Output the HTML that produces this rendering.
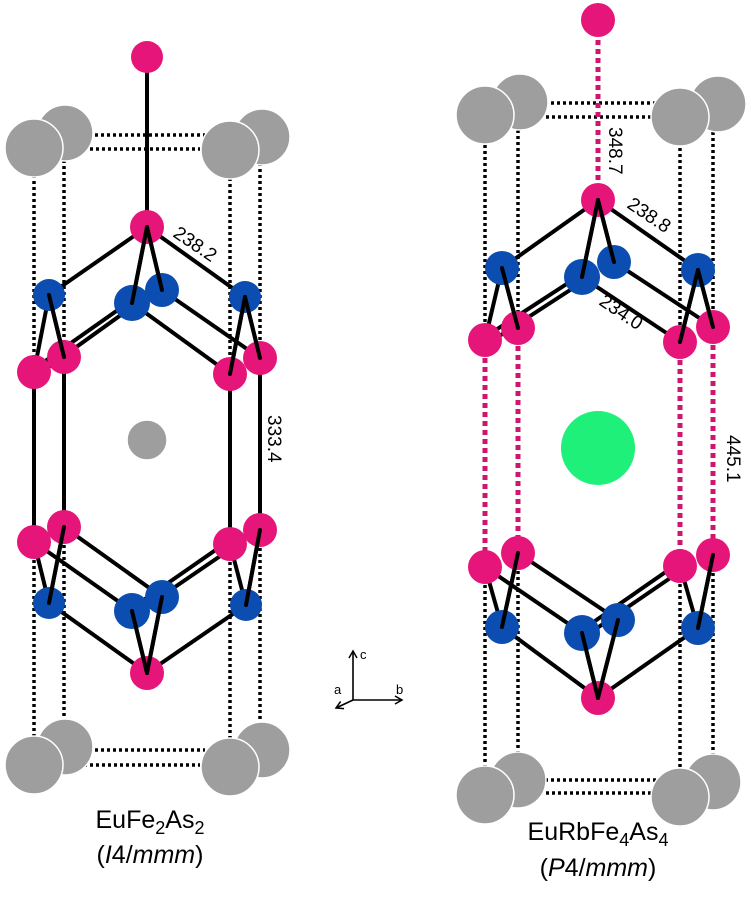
<!DOCTYPE html>
<html><head><meta charset="utf-8"><style>
body{margin:0;background:#fff;}
svg{display:block;font-family:"Liberation Sans",sans-serif;}
</style></head><body>
<svg width="747" height="920" viewBox="0 0 747 920" xmlns="http://www.w3.org/2000/svg">
<defs>
<marker id="ar" markerWidth="10" markerHeight="10" refX="8" refY="5" orient="auto" markerUnits="userSpaceOnUse">
<path d="M1,1 L8,5 L1,9" fill="none" stroke="#000" stroke-width="1.5"/></marker>
</defs>
<!-- ===== LEFT ===== -->
<g stroke="#000" stroke-width="3.5" stroke-dasharray="3,3" fill="none">
<line x1="95" y1="135" x2="205" y2="135"/><line x1="60" y1="149" x2="200" y2="149"/>
<line x1="95" y1="750" x2="205" y2="750"/><line x1="60" y1="765" x2="200" y2="765"/>
<line x1="34" y1="175" x2="34" y2="372"/><line x1="64" y1="160" x2="64" y2="357"/>
<line x1="230" y1="178" x2="230" y2="374"/><line x1="260" y1="163" x2="260" y2="358"/>
<line x1="34" y1="542" x2="34" y2="740"/><line x1="64" y1="527" x2="64" y2="722"/>
<line x1="230" y1="544" x2="230" y2="742"/><line x1="260" y1="530" x2="260" y2="725"/>
</g>
<g stroke="#000" stroke-width="4" fill="none" stroke-linecap="round">
<line x1="147" y1="57" x2="147" y2="227"/>
<line x1="147" y1="227" x2="49" y2="295"/><line x1="147" y1="227" x2="132" y2="303"/>
<line x1="147" y1="227" x2="162" y2="290"/><line x1="147" y1="227" x2="245" y2="297"/>
<line x1="49" y1="295" x2="34" y2="372"/><line x1="49" y1="295" x2="64" y2="357"/>
<line x1="245" y1="297" x2="230" y2="374"/><line x1="245" y1="297" x2="260" y2="358"/>
<line x1="132" y1="303" x2="230" y2="374"/><line x1="162" y1="290" x2="260" y2="358"/>
<line x1="132" y1="300" x2="34" y2="369"/><line x1="132" y1="307" x2="36" y2="376"/>
<line x1="34" y1="372" x2="34" y2="542"/><line x1="64" y1="357" x2="64" y2="527"/>
<line x1="230" y1="374" x2="230" y2="544"/><line x1="260" y1="358" x2="260" y2="530"/>
<line x1="147" y1="673" x2="49" y2="603"/><line x1="147" y1="673" x2="132" y2="611"/>
<line x1="147" y1="673" x2="162" y2="597"/><line x1="147" y1="673" x2="246" y2="605"/>
<line x1="49" y1="603" x2="34" y2="542"/><line x1="49" y1="603" x2="64" y2="527"/>
<line x1="246" y1="605" x2="230" y2="544"/><line x1="246" y1="605" x2="260" y2="530"/>
<line x1="132" y1="611" x2="34" y2="542"/><line x1="162" y1="597" x2="64" y2="527"/>
<line x1="132" y1="608" x2="230" y2="540"/><line x1="134" y1="615" x2="232" y2="548"/>
</g>
<g stroke="#fff" stroke-width="1.5">
<circle cx="65" cy="133" r="28" fill="#9e9e9e"/><circle cx="34" cy="148" r="29" fill="#9e9e9e"/>
<circle cx="262" cy="137" r="28" fill="#9e9e9e"/><circle cx="230" cy="150" r="29" fill="#9e9e9e"/>
<circle cx="65" cy="747" r="28" fill="#9e9e9e"/><circle cx="34" cy="765" r="29" fill="#9e9e9e"/>
<circle cx="262" cy="750" r="28" fill="#9e9e9e"/><circle cx="230" cy="767" r="29" fill="#9e9e9e"/>
<circle cx="147" cy="440" r="20" fill="#9e9e9e"/>
</g>
<g fill="#e6157a"><circle cx="147" cy="57" r="16"/><circle cx="147" cy="227" r="17"/>
<circle cx="64" cy="357" r="17"/><circle cx="260" cy="358" r="17"/>
<circle cx="34" cy="372" r="17"/><circle cx="230" cy="374" r="17"/>
<circle cx="64" cy="527" r="17"/><circle cx="260" cy="530" r="17"/>
<circle cx="34" cy="542" r="17"/><circle cx="230" cy="544" r="17"/>
<circle cx="147" cy="673" r="17"/></g>
<g fill="#0b4db0"><circle cx="162" cy="290" r="17"/><circle cx="49" cy="295" r="16"/><circle cx="245" cy="297" r="16"/><circle cx="132" cy="303" r="18"/>
<circle cx="162" cy="597" r="17"/><circle cx="49" cy="603" r="16"/><circle cx="246" cy="605" r="16"/><circle cx="132" cy="611" r="18"/></g>
<g stroke="#000" stroke-width="4" stroke-linecap="round">
<line x1="147" y1="227" x2="132" y2="303"/><line x1="147" y1="227" x2="162" y2="290"/>
<line x1="49" y1="295" x2="64" y2="357"/><line x1="245" y1="297" x2="260" y2="358"/><line x1="245" y1="297" x2="230" y2="374"/>
<line x1="147" y1="673" x2="132" y2="611"/><line x1="147" y1="673" x2="162" y2="597"/>
<line x1="49" y1="603" x2="64" y2="527"/><line x1="246" y1="605" x2="260" y2="530"/></g>
<text x="0" y="0" font-size="19" transform="translate(172,236) rotate(34)">238.2</text>
<text x="0" y="0" font-size="19" transform="translate(268,415) rotate(90)">333.4</text>
<text x="150" y="828" font-size="25" text-anchor="middle">EuFe<tspan font-size="18" dy="6">2</tspan><tspan dy="-6">As</tspan><tspan font-size="18" dy="6">2</tspan></text>
<text x="150" y="863" font-size="25" text-anchor="middle">(<tspan font-style="italic">I</tspan>4/<tspan font-style="italic">mmm</tspan>)</text>
<!-- axes -->
<g stroke="#000" stroke-width="1.6" fill="none">
<line x1="353" y1="700" x2="353" y2="651" marker-end="url(#ar)"/>
<line x1="353" y1="700" x2="402" y2="700" marker-end="url(#ar)"/>
<line x1="353" y1="700" x2="336" y2="708" marker-end="url(#ar)"/></g>
<text x="360" y="659" font-size="13">c</text><text x="334" y="694" font-size="13">a</text><text x="396" y="694" font-size="13">b</text>
<!-- ===== RIGHT ===== -->
<g stroke="#000" stroke-width="3.5" stroke-dasharray="3,3" fill="none">
<line x1="545" y1="103" x2="660" y2="103"/><line x1="510" y1="117" x2="655" y2="117"/>
<line x1="545" y1="780" x2="660" y2="780"/><line x1="510" y1="793" x2="655" y2="793"/>
<line x1="485" y1="145" x2="485" y2="340"/><line x1="518" y1="130" x2="518" y2="328"/>
<line x1="680" y1="148" x2="680" y2="342"/><line x1="713" y1="132" x2="713" y2="327"/>
<line x1="485" y1="567" x2="485" y2="768"/><line x1="518" y1="553" x2="518" y2="753"/>
<line x1="680" y1="566" x2="680" y2="770"/><line x1="713" y1="555" x2="713" y2="755"/>
</g>
<g stroke="#d0156f" stroke-width="5" stroke-dasharray="5,4" fill="none">
<line x1="598" y1="40" x2="598" y2="185"/>
<line x1="485" y1="340" x2="485" y2="567"/><line x1="518" y1="328" x2="518" y2="553"/>
<line x1="680" y1="342" x2="680" y2="566"/><line x1="713" y1="327" x2="713" y2="555"/>
</g>
<g stroke="#000" stroke-width="4" fill="none" stroke-linecap="round">
<line x1="598" y1="200" x2="502" y2="268"/><line x1="598" y1="200" x2="582" y2="277"/>
<line x1="598" y1="200" x2="614" y2="262"/><line x1="598" y1="200" x2="698" y2="270"/>
<line x1="502" y1="268" x2="485" y2="340"/><line x1="502" y1="268" x2="518" y2="328"/>
<line x1="698" y1="270" x2="680" y2="342"/><line x1="698" y1="270" x2="713" y2="327"/>
<line x1="582" y1="277" x2="680" y2="342"/><line x1="614" y1="262" x2="713" y2="327"/>
<line x1="582" y1="274" x2="485" y2="337"/><line x1="584" y1="281" x2="487" y2="344"/>
<line x1="598" y1="698" x2="502" y2="627"/><line x1="598" y1="698" x2="582" y2="633"/>
<line x1="598" y1="698" x2="618" y2="620"/><line x1="598" y1="698" x2="698" y2="628"/>
<line x1="502" y1="627" x2="485" y2="567"/><line x1="502" y1="627" x2="518" y2="553"/>
<line x1="698" y1="628" x2="680" y2="566"/><line x1="698" y1="628" x2="713" y2="555"/>
<line x1="582" y1="633" x2="485" y2="567"/><line x1="618" y1="620" x2="518" y2="553"/>
<line x1="582" y1="630" x2="680" y2="562"/><line x1="584" y1="637" x2="682" y2="570"/>
</g>
<g stroke="#fff" stroke-width="1.5">
<circle cx="520" cy="102" r="28" fill="#9e9e9e"/><circle cx="485" cy="115" r="29" fill="#9e9e9e"/>
<circle cx="718" cy="104" r="28" fill="#9e9e9e"/><circle cx="680" cy="117" r="29" fill="#9e9e9e"/>
<circle cx="518" cy="780" r="28" fill="#9e9e9e"/><circle cx="485" cy="795" r="29" fill="#9e9e9e"/>
<circle cx="713" cy="782" r="28" fill="#9e9e9e"/><circle cx="680" cy="797" r="29" fill="#9e9e9e"/>
</g>
<circle cx="598" cy="448" r="37" fill="#1ef07a"/>
<g fill="#e6157a"><circle cx="598" cy="20" r="17"/><circle cx="598" cy="200" r="17"/>
<circle cx="518" cy="328" r="17"/><circle cx="713" cy="327" r="17"/>
<circle cx="485" cy="340" r="17"/><circle cx="680" cy="342" r="17"/>
<circle cx="518" cy="553" r="17"/><circle cx="713" cy="555" r="17"/>
<circle cx="485" cy="567" r="17"/><circle cx="680" cy="566" r="17"/>
<circle cx="598" cy="698" r="17"/></g>
<g fill="#0b4db0"><circle cx="614" cy="262" r="17"/><circle cx="502" cy="268" r="17"/><circle cx="698" cy="270" r="17"/><circle cx="582" cy="277" r="18"/>
<circle cx="618" cy="620" r="17"/><circle cx="502" cy="627" r="17"/><circle cx="698" cy="628" r="17"/><circle cx="582" cy="633" r="18"/></g>
<g stroke="#000" stroke-width="4" stroke-linecap="round">
<line x1="598" y1="200" x2="582" y2="277"/><line x1="598" y1="200" x2="614" y2="262"/>
<line x1="502" y1="268" x2="518" y2="328"/><line x1="698" y1="270" x2="713" y2="327"/><line x1="698" y1="270" x2="680" y2="342"/>
<line x1="598" y1="698" x2="582" y2="633"/><line x1="598" y1="698" x2="618" y2="620"/>
<line x1="502" y1="627" x2="518" y2="553"/><line x1="698" y1="628" x2="713" y2="555"/></g>
<text x="0" y="0" font-size="19" transform="translate(609,127) rotate(90)">348.7</text>
<text x="0" y="0" font-size="19" transform="translate(626,207) rotate(34)">238.8</text>
<text x="0" y="0" font-size="19" transform="translate(598,304) rotate(34)">234.0</text>
<text x="0" y="0" font-size="19" transform="translate(727,435) rotate(90)">445.1</text>
<text x="598" y="840" font-size="25" text-anchor="middle">EuRbFe<tspan font-size="18" dy="6">4</tspan><tspan dy="-6">As</tspan><tspan font-size="18" dy="6">4</tspan></text>
<text x="598" y="876" font-size="25" text-anchor="middle">(<tspan font-style="italic">P</tspan>4/<tspan font-style="italic">mmm</tspan>)</text>
</svg>
</body></html>
